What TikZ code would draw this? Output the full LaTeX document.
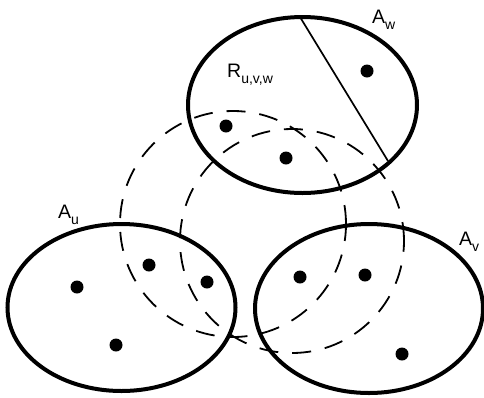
\documentclass[tikz,border=0pt]{standalone}
\usepackage{fontspec}
\setmainfont{Liberation Sans}
\newcommand{\lowsub}[1]{\raisebox{-6.5pt}{\fontsize{14}{14}\selectfont #1}}
\begin{document}
\begin{tikzpicture}[x=1pt,y=-1pt,
  region/.style={line width=4pt},
  hull/.style={line width=1.8pt, dash pattern=on 19pt off 14pt},
  chord/.style={line width=1.7pt},
  dot/.style={circle,fill=black,inner sep=0pt,minimum size=13pt},
  lbl/.style={anchor=base west,inner sep=0pt,font=\fontsize{19.5}{19.5}\selectfont}]
\useasboundingbox (0,0) rectangle (484,397);
% sets
\coordinate (cw) at (302.5,105);
\coordinate (cu) at (121.5,307.5);
\coordinate (cv) at (369,308.5);
\draw[region] (cw) ellipse [x radius=114.5pt, y radius=88pt];
\draw[region] (cu) ellipse [x radius=114pt, y radius=83.5pt];
\draw[region] (cv) ellipse [x radius=114pt, y radius=84.5pt];
% dashed circles
\coordinate (c1) at (233,224);
\coordinate (c2) at (292,241);
\draw[hull] (c1) circle [radius=113pt];
\draw[hull] (c2) circle [radius=112pt];
% chord
\coordinate (ch1) at (300,17);
\coordinate (ch2) at (388,161);
\draw[chord] (ch1) -- (ch2);
% points
\node[dot] (w1) at (367,71) {};
\node[dot] (w2) at (226,126) {};
\node[dot] (w3) at (286,158) {};
\node[dot] (u1) at (77,287) {};
\node[dot] (u2) at (149,265) {};
\node[dot] (u3) at (207,282) {};
\node[dot] (u4) at (116,345) {};
\node[dot] (v1) at (300,277) {};
\node[dot] (v2) at (365,275) {};
\node[dot] (v3) at (402,354) {};
% labels
\node[lbl] (lw) at (372,23) {A\lowsub{w}};
\node[lbl] (lr) at (227,77) {R\lowsub{u,v,w}};
\node[lbl] (lu) at (58,218) {A\lowsub{u}};
\node[lbl] (lv) at (459,245) {A\lowsub{v}};
\end{tikzpicture}
\end{document}
